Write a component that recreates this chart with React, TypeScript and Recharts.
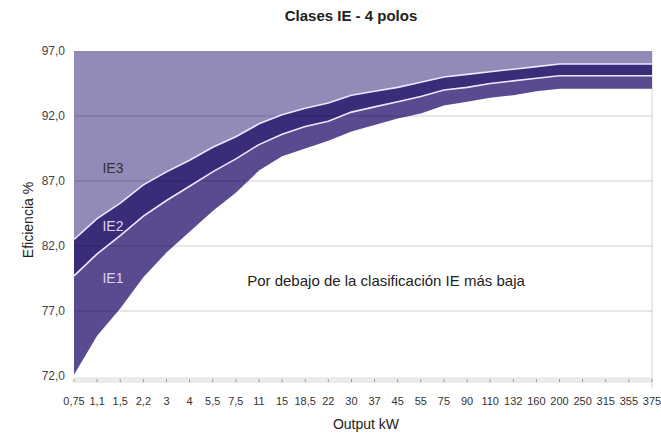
import React from 'react';
import {
  ComposedChart,
  Area,
  Line,
  XAxis,
  YAxis,
  ReferenceLine,
  Customized,
} from 'recharts';

const categories = [
  '0,75', '1,1', '1,5', '2,2', '3', '4', '5,5', '7,5', '11', '15', '18,5', '22', '30',
  '37', '45', '55', '75', '90', '110', '132', '160', '200', '250', '315', '355', '375',
];
const ie1 = [
  72.1, 75.1, 77.2, 79.6, 81.5, 83.1, 84.7, 86.1, 87.8, 88.9, 89.5, 90.1, 90.8,
  91.3, 91.8, 92.2, 92.8, 93.1, 93.4, 93.6, 93.9, 94.1, 94.1, 94.1, 94.1, 94.1,
];
const ie2 = [
  79.7, 81.4, 82.8, 84.3, 85.5, 86.6, 87.7, 88.7, 89.8, 90.6, 91.2, 91.6, 92.3,
  92.7, 93.1, 93.5, 94.0, 94.2, 94.5, 94.7, 94.9, 95.1, 95.1, 95.1, 95.1, 95.1,
];
const ie3 = [
  82.5, 84.1, 85.3, 86.7, 87.7, 88.6, 89.6, 90.4, 91.4, 92.1, 92.6, 93.0, 93.6,
  93.9, 94.2, 94.6, 95.0, 95.2, 95.4, 95.6, 95.8, 96.0, 96.0, 96.0, 96.0, 96.0,
];
const yTicks = [72, 77, 82, 87, 92, 97];
const gridValues = [77, 82, 87, 92];
const Y_MIN = 72;
const Y_MAX = 97;

const data = categories.map((c, i) => ({
  cat: c,
  ie1: ie1[i],
  ie2: ie2[i],
  ie3: ie3[i],
  top: Y_MAX,
}));

const FONT = '"Liberation Sans", Arial, Helvetica, sans-serif';

const XTick = (props: any) => {
  const { x, y, payload } = props;
  return (
    <g>
      <line x1={x} x2={x} y1={y + 3} y2={y + 6} stroke="#9a9a9a" strokeWidth={1} />
      <text x={x} y={y + 29} textAnchor="middle" fontSize={11} fill="#333" fontFamily={FONT}>
        {payload.value}
      </text>
    </g>
  );
};

const Frame = () => (
  <g>
    <rect x={74} y={377} width={578} height={6} fill="#ececec" />
    <line x1={652} x2={652} y1={51} y2={388} stroke="#e2e2e2" strokeWidth={1.5} />
  </g>
);

const Overlay = () => (
  <svg
    width={661}
    height={434}
    style={{ position: 'absolute', left: 0, top: 0, pointerEvents: 'none' }}
  >
    <g fontFamily={FONT}>
      <text x={351} y={21} textAnchor="middle" fontSize={15} fontWeight="bold" fill="#222">
        Clases IE - 4 polos
      </text>
      <text
        x={32.5}
        y={220}
        textAnchor="middle"
        fontSize={14}
        fill="#222"
        transform="rotate(-90, 32.5, 220)"
      >
        Eficiencia %
      </text>
      <text x={366} y={429} textAnchor="middle" fontSize={14} fill="#222">
        Output kW
      </text>
      <text x={113} y={173} textAnchor="middle" fontSize={14} fill="#333">
        IE3
      </text>
      <text x={113} y={230.5} textAnchor="middle" fontSize={14} fill="#d9d4f2">
        IE2
      </text>
      <text x={113} y={283} textAnchor="middle" fontSize={14} fill="#d9d4f2">
        IE1
      </text>
      <text x={386} y={286} textAnchor="middle" fontSize={15} fill="#222">
        Por debajo de la clasificación IE más baja
      </text>
    </g>
  </svg>
);

export default function App() {
  return (
    <div
      style={{
        position: 'absolute',
        left: 0,
        top: 0,
        width: 661,
        height: 434,
        fontFamily: FONT,
        background: '#fff',
      }}
    >
      <ComposedChart
        width={661}
        height={434}
        data={data}
        margin={{ top: 51, right: 9, bottom: 0, left: 0 }}
      >
        <XAxis
          dataKey="cat"
          type="category"
          scale="point"
          interval={0}
          padding={{ left: 0, right: 0 }}
          tickLine={false}
          axisLine={false}
          tickSize={0}
          tickMargin={0}
          height={58}
          tick={<XTick />}
        />
        <YAxis
          type="number"
          domain={[Y_MIN, Y_MAX]}
          ticks={yTicks}
          width={74}
          tickLine={false}
          axisLine={false}
          tickMargin={3}
          allowDataOverflow
          tick={{ fontSize: 12, fill: '#444', fontFamily: FONT }}
          tickFormatter={(v: number) => v.toFixed(1).replace('.', ',')}
        />
        <Customized component={Frame} />
        <Area
          type="linear"
          dataKey={(d: any) => [d.ie3, d.top]}
          fill="#928bb7"
          fillOpacity={1}
          stroke="none"
          isAnimationActive={false}
        />
        <Area
          type="linear"
          dataKey={(d: any) => [d.ie2, d.ie3]}
          fill="#3b2c7a"
          fillOpacity={1}
          stroke="none"
          isAnimationActive={false}
        />
        <Area
          type="linear"
          dataKey={(d: any) => [d.ie1, d.ie2]}
          fill="#5a4b90"
          fillOpacity={1}
          stroke="none"
          isAnimationActive={false}
        />
        {gridValues.map((v) => (
          <ReferenceLine key={v} y={v} stroke="rgba(0,0,0,0.13)" strokeWidth={1.5} />
        ))}
        <Line
          type="linear"
          dataKey="ie2"
          stroke="#ece8ff"
          strokeWidth={1.6}
          dot={false}
          activeDot={false}
          isAnimationActive={false}
        />
        <Line
          type="linear"
          dataKey="ie3"
          stroke="#ece8ff"
          strokeWidth={1.6}
          dot={false}
          activeDot={false}
          isAnimationActive={false}
        />
      </ComposedChart>
      <Overlay />
    </div>
  );
}
